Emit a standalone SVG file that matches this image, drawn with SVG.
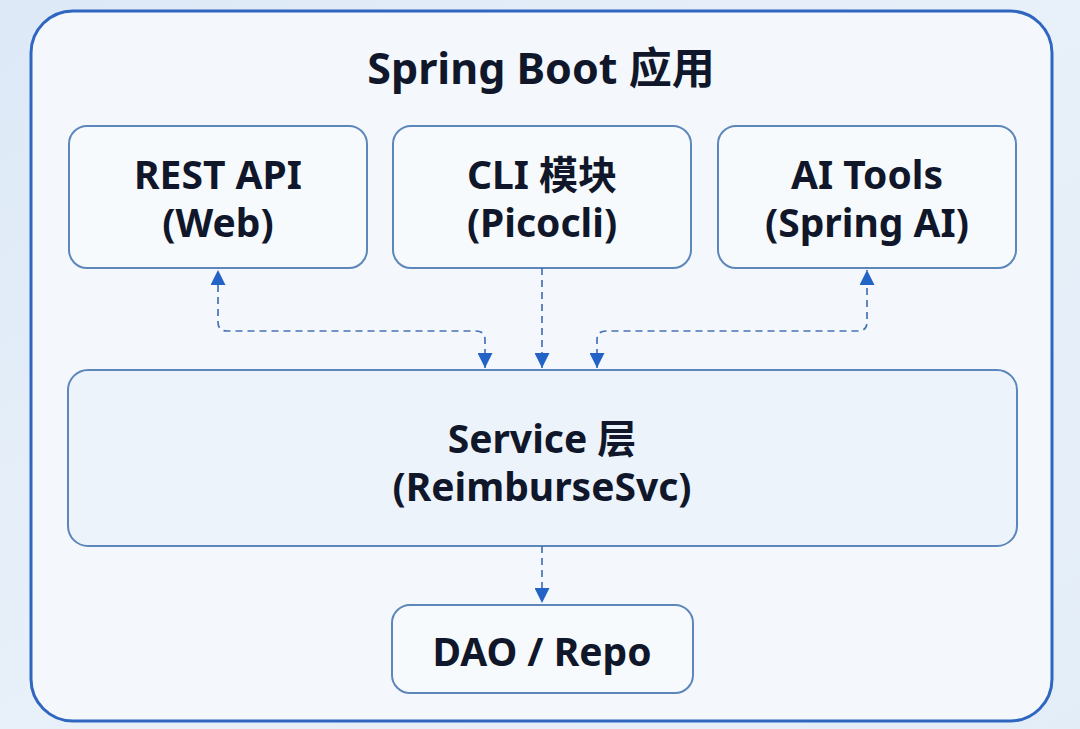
<svg xmlns="http://www.w3.org/2000/svg" width="1080" height="729" viewBox="0 0 1080 729">
<defs>
<linearGradient id="bg" x1="0" y1="0" x2="1" y2="1">
<stop offset="0" stop-color="#dde9f7"/>
<stop offset="0.5" stop-color="#e8f0f9"/>
<stop offset="1" stop-color="#e3edf8"/>
</linearGradient>
<marker id="ah" viewBox="0 0 10 10" refX="10" refY="5" markerWidth="16" markerHeight="15" markerUnits="userSpaceOnUse" orient="auto-start-reverse">
<path d="M0,0 L10,5 L0,10 Z" fill="#2463c6"/>
</marker>
<style>
.box{fill:#f7fafd;stroke:#5d86ba;stroke-width:2}
.svc{fill:#edf3fa;stroke:#5d86ba;stroke-width:2}
.t{font-family:"Noto Sans","Open Sans","Noto Sans CJK SC",sans-serif;font-weight:700;fill:#10172a;text-anchor:middle}
.c{fill:none;stroke:#4573b4;stroke-width:1.7;stroke-dasharray:7,5}
</style>
</defs>
<rect width="1080" height="729" fill="url(#bg)"/>
<g id="app">
<rect x="31" y="11" width="1021" height="710" rx="42" fill="#f4f8fc" stroke="#2f67c0" stroke-width="3"/>
<text class="t" x="541" y="84" font-size="43">Spring Boot 应用</text>
</g>
<g id="rest">
<rect class="box" x="69" y="126" width="298" height="142" rx="18"/>
<text class="t" x="218" y="189" font-size="39">REST API</text>
<text class="t" x="218" y="237" font-size="39">(Web)</text>
</g>
<g id="cli">
<rect class="box" x="393" y="126" width="298" height="142" rx="18"/>
<text class="t" x="542" y="189" font-size="39">CLI 模块</text>
<text class="t" x="542" y="237" font-size="39">(Picocli)</text>
</g>
<g id="aitools">
<rect class="box" x="718" y="126" width="298" height="142" rx="18"/>
<text class="t" x="867" y="189" font-size="39">AI Tools</text>
<text class="t" x="867" y="237" font-size="39">(Spring AI)</text>
</g>
<g id="service">
<rect class="svc" x="68" y="370" width="949" height="176" rx="20"/>
<text class="t" x="542" y="453" font-size="39">Service 层</text>
<text class="t" x="542" y="501" font-size="39">(ReimburseSvc)</text>
</g>
<g id="dao">
<rect class="box" x="392" y="605" width="301" height="88" rx="18"/>
<text class="t" x="542" y="666" font-size="39">DAO / Repo</text>
</g>
<g id="connectors">
<path class="c" d="M485,368 L485,340 Q485,331 476,331 L227,331 Q218,331 218,322 L218,270" marker-start="url(#ah)" marker-end="url(#ah)"/>
<path class="c" d="M542,268 L542,368" marker-end="url(#ah)"/>
<path class="c" d="M597,368 L597,340 Q597,331 606,331 L858,331 Q867,331 867,322 L867,270" marker-start="url(#ah)" marker-end="url(#ah)"/>
<path class="c" d="M542,546 L542,603" marker-end="url(#ah)"/>
</g>
</svg>
